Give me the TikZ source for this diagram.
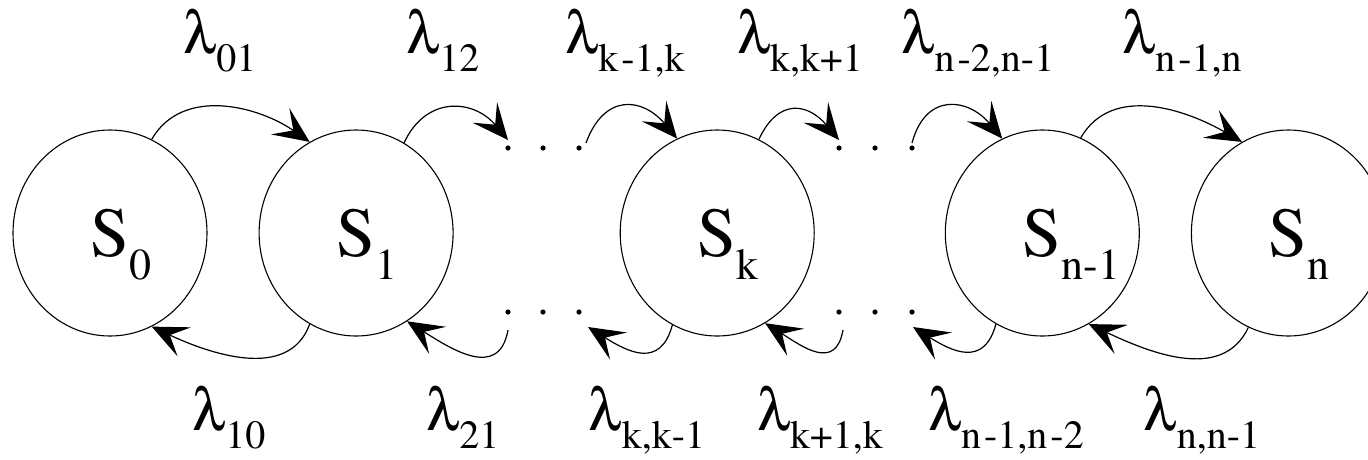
\documentclass[tikz,border=0pt]{standalone}
\usepackage[T1]{fontenc}
\usepackage{times}
\usepackage[Symbol]{upgreek}
\usepackage{tikz}
\usetikzlibrary{shapes.geometric, arrows.meta, positioning}

\newcommand{\rate}[1]{{\fontsize{60}{60}\selectfont$\uplambda$}\raisebox{-18pt}{\fontsize{40}{40}\selectfont #1}}
\newcommand{\state}[1]{{\fontsize{70}{70}\selectfont S}\rlap{\smash{\raisebox{-23pt}{\fontsize{44}{44}\selectfont #1}}}}

\begin{document}
\begin{tikzpicture}[
    x=1pt, y=-1pt,
    statenode/.style={ellipse, draw, line width=1.1pt, minimum width=194pt, minimum height=206pt, inner sep=0pt},
    ratelabel/.style={anchor=base, inner sep=0pt},
    arrow/.style={-{Stealth[length=36pt, width=32pt, inset=16pt]}, line width=1.2pt}
  ]
    \useasboundingbox (0,0) rectangle (1368,459);

    % States
    \node[statenode] (s0) at (110,233) {\state{0}};
    \node[statenode, right=51pt of s0] (s1) {\state{1}};
    \node[statenode, right=166pt of s1] (sk) {\state{k}};
    \node[statenode, right=130pt of sk] (sn1) {\state{n-1}};
    \node[statenode, right=51pt of sn1] (sn) {\state{n}};

    % Dots
    \foreach \i/\x in {1/508, 2/543, 3/579} {
      \coordinate (ta\i) at (\x,148);
      \coordinate (ba\i) at (\x,312);
      \fill (ta\i) circle (2.6pt) (ba\i) circle (2.6pt);
    }
    \foreach \i/\x in {1/839, 2/875, 3/912} {
      \coordinate (tb\i) at (\x,148);
      \coordinate (bb\i) at (\x,312);
      \fill (tb\i) circle (2.6pt) (bb\i) circle (2.6pt);
    }

    % Upper arrows
    \draw[arrow] (s0.66) to[out=60, in=145] (s1.117);
    \draw[arrow] (s1.62) to[out=65, in=130, looseness=1.3] ([yshift=8pt]ta1);
    \draw[arrow] ([xshift=7pt, yshift=5pt]ta3) to[out=70, in=130, looseness=1.5] (sk.113);
    \draw[arrow] (sk.66) to[out=65, in=130, looseness=1.5] ([yshift=8pt]tb1);
    \draw[arrow] ([yshift=5pt]tb3) to[out=75, in=130, looseness=1.5] (sn1.113);
    \draw[arrow] (sn1.68) to[out=60, in=150] (sn.117);

    % Lower arrows
    \draw[arrow] (s1.243) to[out=-110, in=-25] (s0.294);
    \draw[arrow] ([yshift=-18pt]ba1) to[out=-100, in=-32, looseness=1.3] (s1.300);
    \draw[arrow] (sk.244) to[out=-105, in=-32, looseness=1.4] ([xshift=9pt, yshift=-15pt]ba3);
    \draw[arrow] ([xshift=4pt, yshift=-18pt]bb1) to[out=-100, in=-32, looseness=1.4] (sk.298);
    \draw[arrow] (sn1.243) to[out=-105, in=-32, looseness=1.4] ([xshift=1pt, yshift=-15pt]bb3);
    \draw[arrow] (sn.247) to[out=-115, in=-25] (sn1.297);

    % Rate labels
    \node[ratelabel] (l01) at (220,53) {\rate{01}};
    \node[ratelabel] (l12) at (443,53) {\rate{12}};
    \node[ratelabel] (lkk) at (625,53) {\rate{k\kern3pt-1,k}};
    \node[ratelabel] (lkp) at (800,53) {\rate{k,k+1}};
    \node[ratelabel] (lnn) at (978,53) {\rate{n\kern3pt-2,n-1}};
    \node[ratelabel] (lnl) at (1182,53) {\rate{n\kern3pt-1,n}};

    \node[ratelabel] (l10) at (229,430) {\rate{10}};
    \node[ratelabel] (l21) at (463,430) {\rate{21}};
    \node[ratelabel] (lkm) at (647,430) {\rate{k,k-1}};
    \node[ratelabel] (lpk) at (820,430) {\rate{k+1,k}};
    \node[ratelabel] (lmn) at (1006,430) {\rate{n\kern3pt-1,n\kern3pt-2}};
    \node[ratelabel] (lnm) at (1202,430) {\rate{n,n-1}};
\end{tikzpicture}
\end{document}
